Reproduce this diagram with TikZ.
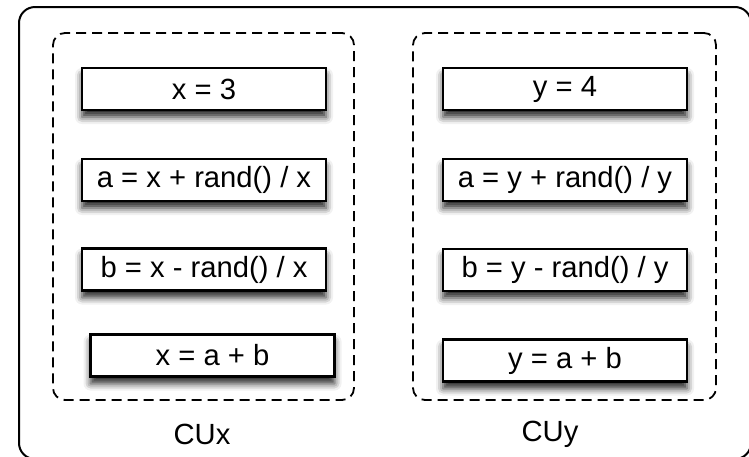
\documentclass[tikz,border=0pt]{standalone}
\usepackage{fontspec}
\setmainfont{Liberation Sans}
\usetikzlibrary{shadows.blur}
\begin{document}
\begin{tikzpicture}[x=0.5pt,y=-0.5pt,
  stmt/.style={draw=black, line width=1.1pt, fill=white, rectangle,
    minimum width=122pt, minimum height=21pt, inner sep=0pt,
    font=\fontsize{14.6}{16}\selectfont,
    blur shadow={shadow xshift=0pt, shadow yshift=-3.5pt,
      shadow blur radius=3.5pt, shadow opacity=85}},
  unit/.style={draw=black, line width=0.9pt, dash pattern=on 5pt off 3pt,
    rounded corners=6pt, rectangle, inner sep=0pt},
  unitlabel/.style={font=\fontsize{14.6}{16}\selectfont, inner sep=0pt}]
  \useasboundingbox (0,0) rectangle (749,456);
  \clip (0,0) rectangle (749,456);
  % outer frame (runs past the right and bottom edges)
  \node[draw=black, line width=1pt, rounded corners=8pt, rectangle,
    minimum width=366pt, minimum height=226pt, inner sep=0pt] (frame) at (385,233) {};
  % computation units
  \node[unit, minimum width=150.5pt, minimum height=183.5pt] (cux) at (203.5,216.5) {};
  \node[unit, minimum width=151.5pt, minimum height=183.5pt] (cuy) at (564.5,216.5) {};
  % statements of CUx
  \node[stmt] (x1) at (204,89) {x = 3};
  \node[stmt] (x2) at (204,180) {a = x + rand() / x};
  \node[stmt] (x3) at (204,269.5) {b = x - rand() / x};
  \node[stmt] (x4) at (212.5,355.5) {x = a + b};
  % statements of CUy
  \node[stmt] (y1) at (565,89) {y = 4};
  \node[stmt] (y2) at (565,180) {a = y + rand() / y};
  \node[stmt] (y3) at (565,270) {b = y - rand() / y};
  \node[stmt] (y4) at (565,360.5) {y = a + b};
  % unit labels
  \node[unitlabel] (lx) at (202,434) {CUx};
  \node[unitlabel] (ly) at (550,434) {CUy};
\end{tikzpicture}
\end{document}
